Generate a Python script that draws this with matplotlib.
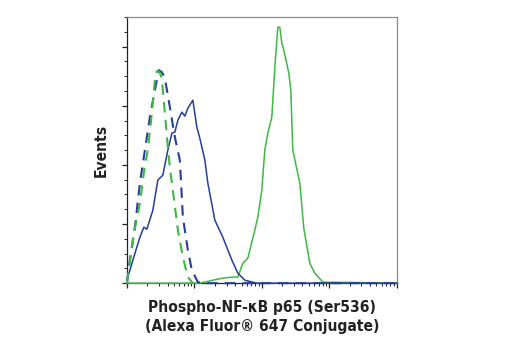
import numpy as np
import matplotlib
matplotlib.use("Agg")
import matplotlib.pyplot as plt
from matplotlib.ticker import LogLocator, MultipleLocator, NullFormatter

# log10 fluorescence intensity and event counts for each histogram
blue_solid_log = [1.00, 1.089, 1.193, 1.252, 1.296, 1.385, 1.459, 1.533, 1.607, 1.667, 1.711,
                  1.756, 1.815, 1.859, 1.904, 1.978, 2.037, 2.081, 2.156, 2.200, 2.304, 2.422,
                  2.556, 2.644, 2.748, 2.926, 5.0]
blue_solid_cnt = [2.0, 15.6, 31.1, 37.9, 36.5, 49.4, 69.7, 73.1, 90.0, 101.5, 102.2,
                  110.3, 115.7, 113.0, 118.4, 123.8, 105.6, 98.1, 83.2, 67.7, 42.6, 31.1,
                  15.6, 6.8, 2.0, 0.0, 0.0]

green_solid_log = [1.00, 2.081, 2.274, 2.422, 2.570, 2.644, 2.719, 2.793, 2.896, 2.941, 3.000,
                   3.044, 3.089, 3.148, 3.193, 3.237, 3.267, 3.296, 3.326, 3.400, 3.430, 3.459,
                   3.563, 3.622, 3.711, 3.785, 3.904, 5.0]
green_solid_cnt = [0.0, 0.0, 2.0, 3.4, 4.1, 4.1, 13.5, 16.9, 35.9, 44.7, 62.9,
                   90.0, 101.5, 112.3, 146.2, 173.2, 173.2, 162.4, 157.7, 142.1, 130.6, 90.0,
                   67.7, 37.2, 13.5, 6.8, 0.7, 0.0]

blue_dash_log = [1.00, 1.044, 1.119, 1.193, 1.267, 1.341, 1.415, 1.474, 1.519, 1.563, 1.637,
                 1.711, 1.785, 1.830, 1.904, 1.963, 2.052, 2.156, 5.0]
blue_dash_cnt = [0.0, 15.6, 37.9, 67.7, 90.0, 112.3, 130.6, 144.1, 142.8, 138.7, 119.1,
                 98.8, 83.2, 44.7, 22.3, 8.8, 0.7, 0.0, 0.0]

green_dash_log = [1.00, 1.044, 1.104, 1.193, 1.267, 1.311, 1.370, 1.415, 1.444, 1.489, 1.519,
                  1.563, 1.607, 1.637, 1.681, 1.756, 1.830, 1.904, 1.978]
green_dash_cnt = [0.0, 14.2, 33.8, 54.1, 79.9, 90.0, 115.0, 137.4, 143.5, 142.8, 137.4,
                  115.0, 92.0, 78.5, 62.9, 35.9, 17.6, 4.1, 0.0]

BLUE = "#243f98"
GREEN = "#3fb744"

label_kw = dict(family="DejaVu Sans", fontstretch="condensed", fontsize=11.2,
                fontweight="bold", color="#222222")

fig = plt.figure(figsize=(5.2, 3.5), dpi=100)
ax = fig.add_axes([0.244, 0.191, 0.519, 0.760])

ax.plot(10 ** np.array(green_solid_log), green_solid_cnt, color=GREEN, lw=1.1, zorder=3, clip_on=False)
ax.plot(10 ** np.array(blue_solid_log), blue_solid_cnt, color=BLUE, lw=1.1, zorder=3, clip_on=False)
ax.plot(10 ** np.array(blue_dash_log), blue_dash_cnt, color=BLUE, lw=1.5, dashes=(5, 3.5), zorder=3, clip_on=False)
ax.plot(10 ** np.array(green_dash_log), green_dash_cnt, color=GREEN, lw=1.5, dashes=(5, 3.5), zorder=3, clip_on=False)

ax.set_xscale("log")
ax.set_xlim(1e1, 1e5)
ax.set_ylim(0, 180)

ax.xaxis.set_major_locator(LogLocator(base=10, numticks=10))
ax.xaxis.set_minor_locator(LogLocator(base=10, subs=np.arange(2, 10), numticks=20))
ax.xaxis.set_major_formatter(NullFormatter())
ax.xaxis.set_minor_formatter(NullFormatter())
ax.yaxis.set_major_locator(MultipleLocator(40))
ax.yaxis.set_minor_locator(MultipleLocator(10))
ax.yaxis.set_major_formatter(NullFormatter())

ax.tick_params(which="major", direction="out", length=3.5, width=0.9, color="#222222")
ax.tick_params(which="minor", direction="out", length=2, width=0.7, color="#222222")

for side in ["left", "bottom"]:
    ax.spines[side].set_color("#222222")
    ax.spines[side].set_linewidth(0.9)
for side in ["top", "right"]:
    ax.spines[side].set_color("#8a8a8a")
    ax.spines[side].set_linewidth(0.9)

ax.set_xlabel("Phospho-NF-κB p65 (Ser536)\n(Alexa Fluor® 647 Conjugate)",
              linespacing=1.35, labelpad=5, **label_kw)
ax.set_ylabel("Events", labelpad=6, **label_kw)

fig.savefig("out.png", dpi=100)
